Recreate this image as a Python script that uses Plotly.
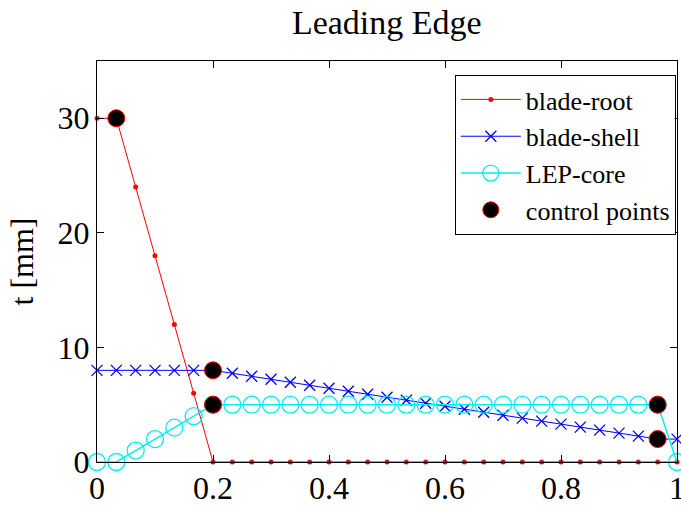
import plotly.graph_objects as go

# x grid (fraction along leading edge)
x_vals = [i / 30 for i in range(31)]

blade_root = [30, 30, 24, 18, 12, 6, 0] + [0] * 24
blade_shell = [8, 8, 8, 8, 8, 8, 8] + [8 - 6 * k / 23 for k in range(1, 24)] + [2]
lep_core = [0, 0, 1, 2, 3, 4, 5] + [5] * 23 + [0]

ctrl_x = [1 / 30, 0.2, 0.2, 29 / 30, 29 / 30]
ctrl_y = [30, 8, 5, 5, 2]

x_ticks = [0, 0.2, 0.4, 0.6, 0.8, 1]
x_ticktext = ["0", "0.2", "0.4", "0.6", "0.8", "1"]
y_ticks = [0, 10, 20, 30]

FONT = "Liberation Serif"
CYAN = "#00eef2"

fig = go.Figure()
fig.add_trace(go.Scatter(x=x_vals, y=blade_root, mode="lines+markers", name="blade-root",
                         line=dict(color="#ff0000", width=1),
                         marker=dict(symbol="circle", size=5, color="#ff0000"),
                         cliponaxis=False))
fig.add_trace(go.Scatter(x=x_vals, y=blade_shell, mode="lines+markers", name="blade-shell",
                         line=dict(color="#0000ff", width=1),
                         marker=dict(symbol="x-thin", size=11, line=dict(color="#0000ff", width=1.3)),
                         cliponaxis=False))
fig.add_trace(go.Scatter(x=x_vals, y=lep_core, mode="lines+markers", name="LEP-core",
                         line=dict(color=CYAN, width=1.5),
                         marker=dict(symbol="circle-open", size=17, line=dict(color=CYAN, width=1.3)),
                         cliponaxis=False))
fig.add_trace(go.Scatter(x=ctrl_x, y=ctrl_y, mode="markers", name="control points",
                         marker=dict(symbol="circle", size=17, color="black",
                                     line=dict(color="#ff0000", width=1)),
                         cliponaxis=False))

fig.update_layout(
    width=681, height=505,
    margin=dict(l=97, r=4, t=61, b=43, autoexpand=False),
    paper_bgcolor="white", plot_bgcolor="white",
    font=dict(family=FONT, size=30, color="black"),
    title=dict(text="Leading Edge", x=0.568, xanchor="center", xref="container",
               y=0.957, yanchor="middle", yref="container",
               font=dict(family=FONT, size=34, color="black")),
    legend=dict(x=0.998, xanchor="right", y=0.965, yanchor="top",
                bgcolor="white", bordercolor="black", borderwidth=1,
                font=dict(family=FONT, size=26, color="black"),
                tracegroupgap=0, itemwidth=60),
    showlegend=True,
)
fig.update_xaxes(range=[0, 1], tickvals=x_ticks, ticktext=x_ticktext,
                 ticks="inside", ticklen=7, tickcolor="black",
                 showline=True, linecolor="black", linewidth=1, mirror="ticks",
                 showgrid=False, zeroline=False, automargin=False,
                 ticklabeloverflow="allow", ticklabelstandoff=-2,
                 tickfont=dict(family=FONT, size=32, color="black"))
fig.update_yaxes(range=[0, 35], tickvals=y_ticks,
                 ticks="inside", ticklen=7, tickcolor="black",
                 showline=True, linecolor="black", linewidth=1, mirror="ticks",
                 showgrid=False, zeroline=False, automargin=False,
                 ticklabeloverflow="allow",
                 title=dict(text="t [mm]", font=dict(family=FONT, size=32, color="black"), standoff=14),
                 tickfont=dict(family=FONT, size=32, color="black"))

fig.write_html("out.html", config={"displayModeBar": False},
               post_script="document.body.style.margin='0';document.body.style.overflow='hidden';")
